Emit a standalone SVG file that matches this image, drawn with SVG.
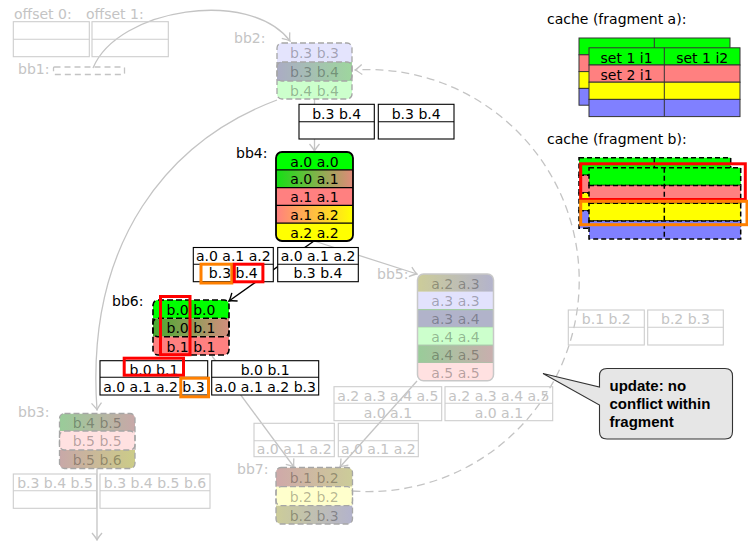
<svg xmlns="http://www.w3.org/2000/svg" width="748" height="542" viewBox="0 0 748 542">
<defs>
<style>
text{font-family:"DejaVu Sans","Liberation Sans",sans-serif;font-size:14px;fill:#000}
.c{text-anchor:middle}
.fl{fill:#c4c4c4}
.fn{fill:#000;fill-opacity:.3}
.bx{fill:#fff;stroke:#000;stroke-width:1.1}
.fb{fill:none;stroke:#cdcdcd;stroke-width:1.1}
.e{fill:none;stroke:#c4c4c4;stroke-width:1.3}
.eb{fill:none;stroke:#000;stroke-width:1.4}
.nd{fill:none;stroke:#a6a6a6;stroke-width:1.3;stroke-dasharray:6 3}
.ndk{fill:none;stroke:#000;stroke-width:1.6;stroke-dasharray:6 3}
.red{fill:none;stroke:#f00;stroke-width:3}
.org{fill:none;stroke:#ff8000;stroke-width:3}
.cl{stroke:#333;stroke-width:1}
.cd{stroke:#000;stroke-width:1.5;stroke-dasharray:5 3}
.cb{font-family:"Liberation Sans","DejaVu Sans",sans-serif;font-weight:bold;font-size:15px}
</style>
<marker id="ag" viewBox="-8 -6 9 12" refX="0" refY="0" markerWidth="9" markerHeight="12" markerUnits="userSpaceOnUse" orient="auto"><path d="M-7,-5 Q-2,-0.8 0,0 Q-2,0.8 -7,5" fill="none" stroke="#c4c4c4" stroke-width="1.3"/></marker>
<marker id="ak" viewBox="-8 -6 9 12" refX="0" refY="0" markerWidth="9" markerHeight="12" markerUnits="userSpaceOnUse" orient="auto"><path d="M-7,-5 Q-2,-0.8 0,0 Q-2,0.8 -7,5" fill="none" stroke="#000" stroke-width="1.4"/></marker>
<linearGradient id="ga01"><stop offset="0" stop-color="#14e014"/><stop offset="1" stop-color="#e08a7a"/></linearGradient>
<linearGradient id="ga12"><stop offset="0" stop-color="#ff8080"/><stop offset="1" stop-color="#ffff00"/></linearGradient>
<linearGradient id="gb01"><stop offset="0" stop-color="#48aa30"/><stop offset="1" stop-color="#d48e7e"/></linearGradient>
<linearGradient id="fb34"><stop offset="0" stop-color="#abacc4"/><stop offset="1" stop-color="#9ed69e"/></linearGradient>
<linearGradient id="fa23"><stop offset="0" stop-color="#cccc99"/><stop offset="1" stop-color="#b3b3cc"/></linearGradient>
<linearGradient id="fa45"><stop offset="0" stop-color="#99cc99"/><stop offset="1" stop-color="#c9aeae"/></linearGradient>
<linearGradient id="fb45"><stop offset="0" stop-color="#99cc99"/><stop offset="1" stop-color="#c8a8a8"/></linearGradient>
<linearGradient id="fb56"><stop offset="0" stop-color="#c8a8a8"/><stop offset="1" stop-color="#cccc88"/></linearGradient>
<linearGradient id="fb12"><stop offset="0" stop-color="#cfa9a9"/><stop offset="1" stop-color="#cccc99"/></linearGradient>
<linearGradient id="fb23"><stop offset="0" stop-color="#cccc99"/><stop offset="1" stop-color="#b3b3cc"/></linearGradient>
<clipPath id="k2"><rect x="277" y="43" width="75" height="56" rx="5"/></clipPath>
<clipPath id="k4"><rect x="276" y="152" width="77" height="89" rx="6"/></clipPath>
<clipPath id="k6"><rect x="153" y="300" width="76" height="55" rx="5"/></clipPath>
<clipPath id="k5"><rect x="417.5" y="274" width="76" height="106.8" rx="6"/></clipPath>
<clipPath id="k3"><rect x="59.5" y="413.5" width="75.5" height="55" rx="5"/></clipPath>
<clipPath id="k7"><rect x="276" y="467.5" width="76.5" height="56.5" rx="5"/></clipPath>
</defs>
<rect width="748" height="542" fill="#fff"/>

<g id="connectors">
<path class="e" d="M93,68 C118,8 250,-12 290,41" marker-end="url(#ag)"/>
<path class="e" d="M314.5,99 V151" marker-end="url(#ag)"/>
<path class="e" d="M277,100 C170,140 85,240 97,410" marker-end="url(#ag)"/>
<path class="eb" d="M314,241 L229,301" marker-end="url(#ak)"/>
<path class="e" d="M314,241 L417,274" marker-end="url(#ag)"/>
<path class="e" d="M212,356 L294,467" marker-end="url(#ag)"/>
<path class="e" d="M417,381 L340,467" marker-end="url(#ag)"/>
<path class="e" d="M97,468.5 V540" marker-end="url(#ag)"/>
<path class="e" d="M352.5,491 A211,211 0 1 0 355,70" stroke-dasharray="8 5" marker-end="url(#ag)"/>
</g>

<g id="faded-boxes">
<text class="fl" x="14" y="19">offset 0:</text>
<text class="fl" x="86" y="19">offset 1:</text>
<rect class="fb" x="13.3" y="21.7" width="76" height="35"/><path class="fb" d="M13.3,39.3H89.3"/>
<rect class="fb" x="92" y="21.7" width="76.3" height="35"/><path class="fb" d="M92,39.3H168.3"/>
<rect class="fb" x="13.3" y="474" width="83.4" height="34.3"/><path class="fb" d="M13.3,490.7H96.7"/>
<rect class="fb" x="100" y="474" width="110" height="34.3"/><path class="fb" d="M100,490.7H210"/>
<text class="fl c" x="55" y="488">b.3 b.4 b.5</text>
<text class="fl c" x="155" y="488">b.3 b.4 b.5 b.6</text>
<rect class="fb" x="254" y="423.3" width="80.3" height="33.4"/><path class="fb" d="M254,440.7H334.3"/>
<rect class="fb" x="338.3" y="423.3" width="80" height="33.4"/><path class="fb" d="M338.3,440.7H418.3"/>
<text class="fl c" x="294.2" y="454.4">a.0 a.1 a.2</text>
<text class="fl c" x="378.3" y="454.4">a.0 a.1 a.2</text>
<rect class="fb" x="334" y="386.7" width="107.7" height="34"/><path class="fb" d="M334,403.3H441.7"/>
<rect class="fb" x="445" y="386.7" width="107.7" height="34"/><path class="fb" d="M445,403.3H552.7"/>
<text class="fl c" x="387.9" y="400.7">a.2 a.3 a.4 a.5</text>
<text class="fl c" x="387.9" y="417.7">a.0 a.1</text>
<text class="fl c" x="498.9" y="400.7">a.2 a.3 a.4 a.5</text>
<text class="fl c" x="498.9" y="417.7">a.0 a.1</text>
<rect class="fb" x="568.3" y="310" width="76" height="35"/><path class="fb" d="M568.3,327.3H644.3"/>
<rect class="fb" x="647.7" y="310" width="75.6" height="35"/><path class="fb" d="M647.7,327.3H723.3"/>
<text class="fl c" x="606.3" y="324.3">b.1 b.2</text>
<text class="fl c" x="685.5" y="324.3">b.2 b.3</text>
</g>

<g id="bb1">
<text class="fl" x="18" y="74">bb1:</text>
<rect x="53.5" y="67" width="71" height="7.5" rx="1" fill="none" stroke="#c4c4c4" stroke-width="1.3" stroke-dasharray="6 4"/>
</g>

<g id="bb2">
<text class="fl" x="234" y="43">bb2:</text>
<g clip-path="url(#k2)">
<rect x="277" y="43" width="75" height="19" fill="#e4e4fd"/>
<rect x="277" y="62" width="75" height="19" fill="url(#fb34)"/>
<rect x="277" y="81" width="75" height="18" fill="#ccffcc"/>
</g>
<rect class="nd" x="277" y="43" width="75" height="38" rx="5"/>
<rect class="nd" x="277" y="62" width="75" height="37" rx="5"/>
<text class="fn c" x="314.5" y="58.2">b.3 b.3</text>
<text class="fn c" x="314.5" y="77.2">b.3 b.4</text>
<text class="fn c" x="314.5" y="95.7">b.4 b.4</text>
</g>

<g id="bb5">
<text class="fl" x="377" y="278.5">bb5:</text>
<g clip-path="url(#k5)">
<rect x="417.5" y="274" width="76" height="17.8" fill="url(#fa23)"/>
<rect x="417.5" y="291.8" width="76" height="17.8" fill="#e2e2fd"/>
<rect x="417.5" y="309.6" width="76" height="17.8" fill="#b1b3ca" stroke="#a3cca3" stroke-width="1.2"/>
<rect x="417.5" y="327.4" width="76" height="17.8" fill="#ccffcc"/>
<rect x="417.5" y="345.2" width="76" height="17.8" fill="url(#fa45)" stroke="#a8c4a8" stroke-width="1.2"/>
<rect x="417.5" y="363" width="76" height="17.8" fill="#ffe1e1"/>
</g>
<rect x="417.5" y="274" width="76" height="106.8" rx="6" fill="none" stroke="#c8c8c8" stroke-width="1.5"/>
<text class="fn c" x="455.5" y="288.6">a.2 a.3</text>
<text class="fn c" x="455.5" y="306.4">a.3 a.3</text>
<text class="fn c" x="455.5" y="324.2">a.3 a.4</text>
<text class="fn c" x="455.5" y="342">a.4 a.4</text>
<text class="fn c" x="455.5" y="359.8">a.4 a.5</text>
<text class="fn c" x="455.5" y="377.6">a.5 a.5</text>
</g>

<g id="bb3">
<text class="fl" x="18" y="417">bb3:</text>
<g clip-path="url(#k3)">
<rect x="59.5" y="413.5" width="75.5" height="17.5" fill="url(#fb45)"/>
<rect x="59.5" y="431" width="75.5" height="19" fill="#ffe1e1"/>
<rect x="59.5" y="450" width="75.5" height="18.5" fill="url(#fb56)"/>
</g>
<rect class="nd" x="59.5" y="413.5" width="75.5" height="36.5" rx="5"/>
<rect class="nd" x="59.5" y="431" width="75.5" height="37.5" rx="5"/>
<text class="fn c" x="97.2" y="427.9">b.4 b.5</text>
<text class="fn c" x="97.2" y="446.2">b.5 b.5</text>
<text class="fn c" x="97.2" y="464.9">b.5 b.6</text>
</g>

<g id="bb7">
<text class="fl" x="237" y="473.5">bb7:</text>
<g clip-path="url(#k7)">
<rect x="276" y="467.5" width="76.5" height="19.2" fill="url(#fb12)"/>
<rect x="276" y="486.7" width="76.5" height="19" fill="#ffffcc"/>
<rect x="276" y="505.7" width="76.5" height="18.3" fill="url(#fb23)"/>
</g>
<rect class="nd" x="276" y="467.5" width="76.5" height="38.2" rx="5"/>
<rect class="nd" x="276" y="486.7" width="76.5" height="37.3" rx="5"/>
<text class="fn c" x="314.2" y="482.7">b.1 b.2</text>
<text class="fn c" x="314.2" y="501.9">b.2 b.2</text>
<text class="fn c" x="314.2" y="520.6">b.2 b.3</text>
</g>

<g id="boxes">
<rect class="bx" x="299" y="104.3" width="75.3" height="34.7"/><path class="bx" d="M299,121.7H374.3"/>
<rect class="bx" x="378.3" y="104.3" width="75.7" height="34.7"/><path class="bx" d="M378.3,121.7H454"/>
<text class="c" x="336.7" y="118.7">b.3 b.4</text>
<text class="c" x="416.2" y="118.7">b.3 b.4</text>
<rect class="bx" x="193.3" y="247.5" width="80" height="34.2"/><path class="bx" d="M193.3,264.3H273.3"/>
<rect class="bx" x="277.7" y="247.5" width="80.6" height="34.2"/><path class="bx" d="M277.7,264.3H358.3"/>
<text class="c" x="233.3" y="261">a.0 a.1 a.2</text>
<text class="c" x="233.3" y="278">b.3 b.4</text>
<text class="c" x="318" y="261">a.0 a.1 a.2</text>
<text class="c" x="318" y="278">b.3 b.4</text>
<rect class="bx" x="100" y="360.7" width="107.7" height="34.3"/><path class="bx" d="M100,377.3H207.7"/>
<rect class="bx" x="211.7" y="360.7" width="107" height="34.3"/><path class="bx" d="M211.7,377.3H318.7"/>
<text class="c" x="153.9" y="374.8">b.0 b.1</text>
<text class="c" x="153.9" y="391.8">a.0 a.1 a.2 b.3</text>
<text class="c" x="265.2" y="374.8">b.0 b.1</text>
<text class="c" x="265.2" y="391.8">a.0 a.1 a.2 b.3</text>
</g>

<g id="bb4">
<text x="236" y="158.3">bb4:</text>
<g clip-path="url(#k4)">
<rect x="276" y="152" width="77" height="17.8" fill="#00ff00"/>
<rect x="276" y="169.8" width="77" height="17.8" fill="url(#ga01)"/>
<rect x="276" y="187.6" width="77" height="17.8" fill="#ff8080"/>
<rect x="276" y="205.4" width="77" height="17.8" fill="url(#ga12)"/>
<rect x="276" y="223.2" width="77" height="17.8" fill="#ffff00"/>
</g>
<path d="M276,169.8H353M276,187.6H353M276,205.4H353M276,223.2H353" stroke="#000" stroke-width="1.3"/>
<rect x="276" y="152" width="77" height="89" rx="6" fill="none" stroke="#000" stroke-width="1.8"/>
<text class="c" x="314.5" y="166.6">a.0 a.0</text>
<text class="c" x="314.5" y="184.4">a.0 a.1</text>
<text class="c" x="314.5" y="202.2">a.1 a.1</text>
<text class="c" x="314.5" y="220">a.1 a.2</text>
<text class="c" x="314.5" y="237.8">a.2 a.2</text>
</g>

<g id="bb6">
<text x="112" y="306">bb6:</text>
<g clip-path="url(#k6)">
<rect x="153" y="300" width="76" height="18.3" fill="#00ff00"/>
<rect x="153" y="318.3" width="76" height="18.4" fill="url(#gb01)"/>
<rect x="153" y="336.7" width="76" height="18.3" fill="#ff8080"/>
</g>
<rect class="ndk" x="153" y="300" width="76" height="36.7" rx="5"/>
<rect class="ndk" x="153" y="318.3" width="76" height="36.7" rx="5"/>
<text class="c" x="191" y="315">b.0 b.0</text>
<text class="c" x="191" y="333.3">b.0 b.1</text>
<text class="c" x="191" y="351.6">b.1 b.1</text>
</g>

<g id="highlights">
<rect class="org" x="201" y="264.2" width="30.8" height="18.8"/>
<rect class="red" x="234.3" y="264.2" width="28.6" height="17.6"/>
<rect class="red" x="160.5" y="296.5" width="29.5" height="58.2"/>
<rect class="red" x="124.2" y="358.2" width="59.3" height="17"/>
<rect class="org" x="180.8" y="378.2" width="27.7" height="18.6"/>
</g>

<g id="cacheA">
<text x="547" y="24">cache (fragment a):</text>
<rect class="cl" x="579" y="38" width="151" height="16.8" fill="#00ff00"/>
<rect class="cl" x="579" y="54.8" width="151" height="16.8" fill="#ff8080"/>
<rect class="cl" x="579" y="71.6" width="151" height="16.8" fill="#ffff00"/>
<rect class="cl" x="579" y="88.4" width="151" height="16.8" fill="#8080ff"/>
<path class="cl" d="M654.3,38V105.2"/>
<rect class="cl" x="589" y="47.8" width="151" height="17.2" fill="#00ff00"/>
<rect class="cl" x="589" y="65" width="151" height="17.2" fill="#ff8080"/>
<rect class="cl" x="589" y="82.2" width="151" height="17.2" fill="#ffff00"/>
<rect class="cl" x="589" y="99.4" width="151" height="17.2" fill="#8080ff"/>
<path class="cl" d="M664.3,47.8V116.6"/>
<text class="c" x="626.6" y="62.5">set 1 i1</text>
<text class="c" x="702.2" y="62.5">set 1 i2</text>
<text class="c" x="626.6" y="79.7">set 2 i1</text>
</g>

<g id="cacheB">
<text x="547" y="144">cache (fragment b):</text>
<rect class="cd" x="579" y="157.7" width="151.7" height="17.65" fill="#00ff00"/>
<rect class="cd" x="579" y="175.35" width="151.7" height="17.65" fill="#ff8080"/>
<rect class="cd" x="579" y="193" width="151.7" height="17.65" fill="#ffff00"/>
<rect class="cd" x="579" y="210.65" width="151.7" height="17.65" fill="#8080ff"/>
<path class="cd" d="M654.3,157.7V228.3"/>
<rect class="cd" x="589" y="167.7" width="151.7" height="17.8" fill="#00ff00"/>
<rect class="cd" x="589" y="185.5" width="151.7" height="17.8" fill="#ff8080"/>
<rect class="cd" x="589" y="203.3" width="151.7" height="17.8" fill="#ffff00"/>
<rect class="cd" x="589" y="221.1" width="151.7" height="17.8" fill="#8080ff"/>
<path class="cd" d="M664.3,167.7V238.9"/>
<rect class="red" x="580.7" y="163.8" width="164.6" height="35.7"/>
<rect class="org" x="580.7" y="201.3" width="166.3" height="23.4"/>
</g>

<g id="callout">
<path d="M607,368.5 H725 Q732.5,368.5 732.5,376 V431.5 Q732.5,439 725,439 H607 Q599.5,439 599.5,431.5 V405 L543,373.5 L599.5,387 V376 Q599.5,368.5 607,368.5 Z" fill="#e6e6e6" stroke="#333" stroke-width="1.1"/>
<text class="cb" x="609.5" y="390.5">update: no</text>
<text class="cb" x="609.5" y="408.7">conflict within</text>
<text class="cb" x="609.5" y="426.8">fragment</text>
</g>
</svg>
